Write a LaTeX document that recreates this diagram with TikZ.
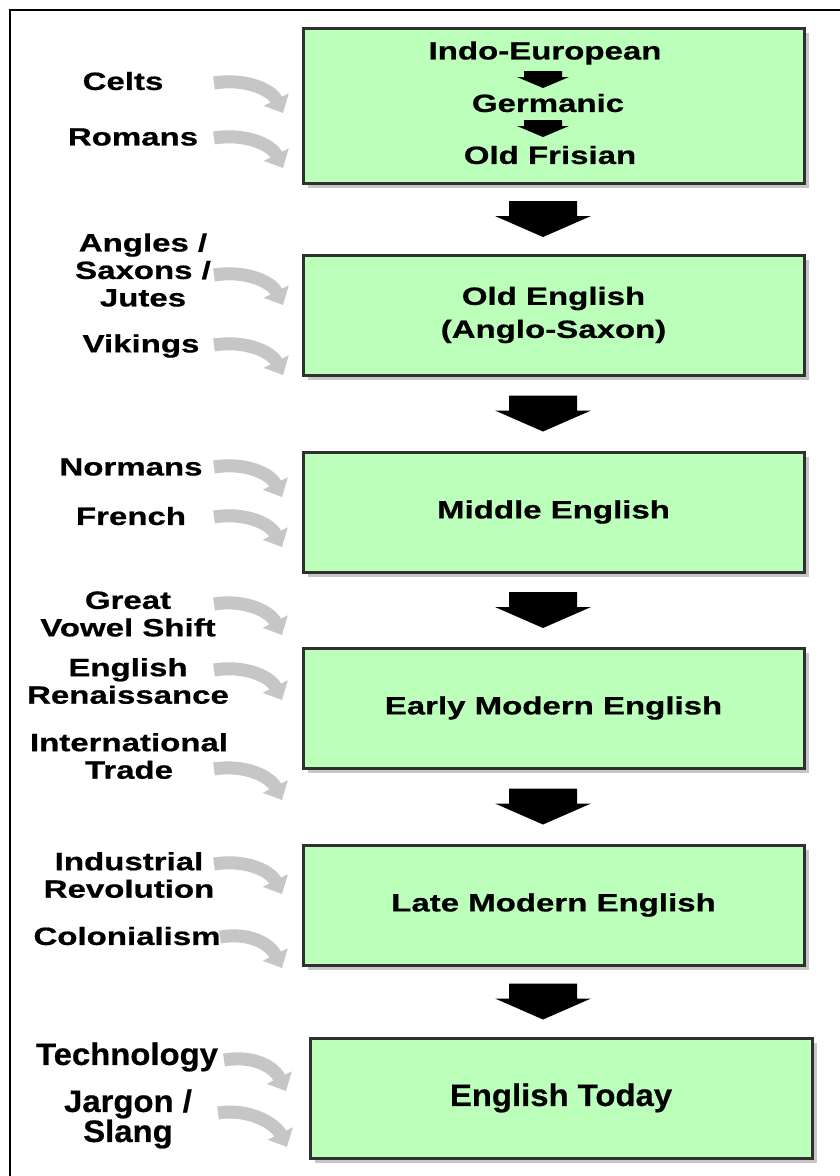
\documentclass[tikz,border=0pt]{standalone}
\usepackage{fontspec}
\setmainfont[BoldFeatures={FakeBold=0.6}]{Liberation Sans}
\usetikzlibrary{arrows.meta,shadows,calc}
\definecolor{boxfill}{HTML}{BBFFBB}
\definecolor{boxline}{HTML}{303030}
\definecolor{fluxgray}{HTML}{C6C6C6}
\newcommand\wide[1]{\scalebox{1.32}[1]{#1}}
\newcommand\wider[1]{\scalebox{1.06}[1]{#1}}
\tikzset{
  stage/.style={draw=boxline, line width=3pt, fill=boxfill, inner sep=0pt,
    minimum width=501pt, minimum height=120pt,
    drop shadow={shadow xshift=5pt, shadow yshift=-5pt, fill=black!22, opacity=1},
    font=\fontsize{25}{33}\selectfont\bfseries, align=center},
  lbl/.style={font=\fontsize{25}{27.5}\selectfont\bfseries, align=center, inner sep=0pt},
  lblbig/.style={font=\fontsize{31}{28}\selectfont\bfseries, align=center, inner sep=0pt},
  boxtxt/.style={font=\fontsize{25}{30}\selectfont\bfseries, inner sep=0pt},
  influx/.style={draw=fluxgray, line width=13pt, -{Triangle[width=27pt,length=15pt]}},
  blockarrow/.pic={\fill[black] (-34,-18) -- (34,-18) -- (34,-3) -- (48,-3) -- (0,18) -- (-48,-3) -- (-34,-3) -- cycle;},
  minarrow/.pic={\fill[black] (-19,-8) -- (19,-8) -- (19,-2) -- (26,-2) -- (0,9) -- (-26,-2) -- (-19,-2) -- cycle;}
}
\begin{document}
\begin{tikzpicture}[x=1pt,y=-1pt]
\useasboundingbox (0,0) rectangle (840,1176);
\fill[white] (0,0) rectangle (840,1176);
\draw[line width=2.5pt] (10,1176) -- (10,10) -- (840,10);

% stage boxes
\node[stage, minimum height=155pt] (b1) at (553.5,105.5) {};
\node[stage] (b2) at (553.5,315) {\wide{Old English}\\\wide{(Anglo-Saxon)}};
\node[stage] (b3) at (553.5,512) {\wide{Middle English}};
\node[stage] (b4) at (553.5,708) {\wide{Early Modern English}};
\node[stage] (b5) at (553.5,905) {\wide{Late Modern English}};
\node[stage, minimum width=502pt, font=\fontsize{31}{33}\selectfont\bfseries] (b6) at (561,1098) {\wider{English Today}};

% inside first box
\node[boxtxt] (ie) at (545,53) {\wide{Indo-European}};
\node[boxtxt] (ge) at (548,103) {\wide{Germanic}};
\node[boxtxt] (of) at (550,155) {\wide{Old Frisian}};
\pic at (543,79) {minarrow};
\pic at (543,128) {minarrow};

% big arrows between stages
\path (b1.south) -- (b2.north) coordinate[pos=.5] (m1);
\path (b2.south) -- (b3.north) coordinate[pos=.5] (m2);
\path (b3.south) -- (b4.north) coordinate[pos=.5] (m3);
\path (b4.south) -- (b5.north) coordinate[pos=.5] (m4);
\path (b5.south) -- (b6.north) coordinate[pos=.5] (m5);
\pic at (543,0 |- m1) {blockarrow};
\pic at (543,0 |- m2) {blockarrow};
\pic at (543,0 |- m3) {blockarrow};
\pic at (543,0 |- m4) {blockarrow};
\pic at (543,0 |- m5) {blockarrow};

% influence labels
\node[lbl] (cel) at (123,81) {\wide{Celts}};
\node[lbl] (rom) at (133,137) {\wide{Romans}};
\node[lbl] (ang) at (143,270) {\wide{Angles /}\\\wide{Saxons /}\\\wide{Jutes}};
\node[lbl] (vik) at (141,346) {\wide{Vikings}};
\node[lbl] (nor) at (131,467) {\wide{Normans}};
\node[lbl] (fre) at (131,516) {\wide{French}};
\node[lbl] (gvs) at (128,614) {\wide{Great}\\\wide{Vowel Shift}};
\node[lbl] (ren) at (128,681) {\wide{English}\\\wide{Renaissance}};
\node[lbl] (int) at (129,756) {\wide{International}\\\wide{Trade}};
\node[lbl] (ind) at (129,875) {\wide{Industrial}\\\wide{Revolution}};
\node[lbl] (col) at (127,936) {\wide{Colonialism}};
\node[lblbig] (tec) at (127,1057) {\wider{Technology}};
\node[lblbig] (jar) at (128,1119) {\wider{Jargon /}\\\wider{Slang}};

% influence arrows
\foreach \n/\sx/\sy/\ex/\ey in {
  1/214/83/283/113, 2/214/138/283/168, 3/214/275/283/305, 4/214/345/283/375,
  5/214/467/282/497, 6/214/517/282/547, 7/214/604/282/635, 8/214/670/282/700,
  9/214/769/282/800, 10/214/864/282/894, 11/220/937/282/968, 12/224/1060/286/1091,
  13/218/1113/287/1147}{
  \coordinate (s\n) at (\sx,\sy);
  \coordinate (e\n) at (\ex,\ey);
  \draw[influx] (s\n) .. controls +(30,-5) and +(-12,-24) .. (e\n);
}
\end{tikzpicture}
\end{document}
